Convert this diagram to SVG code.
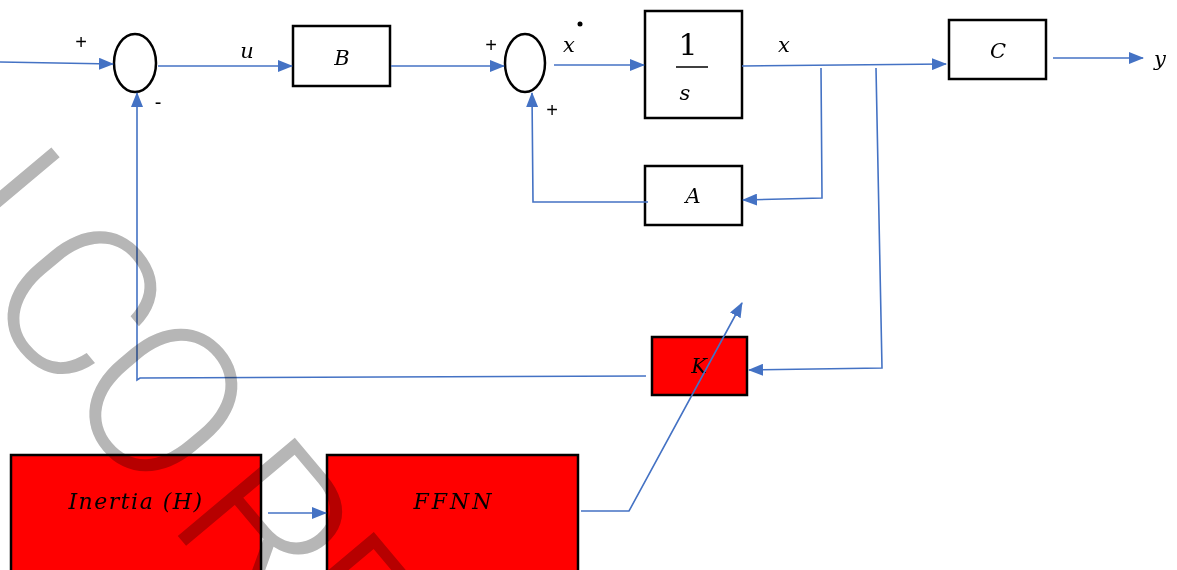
<svg xmlns="http://www.w3.org/2000/svg" width="1177" height="570" viewBox="0 0 1177 570">
<defs>
<marker id="ah" markerWidth="15" markerHeight="12" refX="14" refY="6" orient="auto" markerUnits="userSpaceOnUse">
<path d="M0,0 L15,6 L0,12 Z" fill="#4472c4"/>
</marker>
<style>
.blk{fill:#fff;stroke:#000;stroke-width:2.5}
.red{fill:#ff0000;stroke:#000;stroke-width:2.5}
.sum{fill:#fff;stroke:#000;stroke-width:2.5}
.ln{fill:none;stroke:#4472c4;stroke-width:1.6}
.lbl{font-family:"DejaVu Serif","Liberation Serif",serif;font-style:italic;font-size:21px;fill:#000;text-anchor:middle}
.big{font-size:22px}
.sg{font-family:"Liberation Sans",sans-serif;font-size:20px;fill:#000;text-anchor:middle}
.wm{font-family:Roboto,"Liberation Sans",sans-serif;font-weight:300;font-size:215px;fill:#b6b6b6;mix-blend-mode:multiply}
</style>
</defs>
<rect width="1177" height="570" fill="#fff"/>
<g id="sum1"><ellipse class="sum" cx="135" cy="63" rx="21" ry="29"/></g>
<g id="sum2"><ellipse class="sum" cx="525" cy="63" rx="20" ry="29"/></g>
<g id="B"><rect class="blk" x="293" y="26" width="97" height="60"/><text class="lbl" x="342" y="65">B</text></g>
<g id="integrator"><rect class="blk" x="645" y="11" width="97" height="107"/>
<text x="688" y="55" font-family="DejaVu Serif,Liberation Serif,serif" font-size="30" text-anchor="middle">1</text>
<line x1="676" y1="67" x2="708" y2="67" stroke="#000" stroke-width="1.5"/>
<text class="lbl" x="685" y="100" font-size="25">s</text></g>
<g id="C"><rect class="blk" x="949" y="20" width="97" height="59"/><text class="lbl" x="998" y="58">C</text></g>
<g id="A"><rect class="blk" x="645" y="166" width="97" height="59"/><text class="lbl" x="693" y="203">A</text></g>
<g id="K"><rect class="red" x="652" y="337" width="95" height="58"/><text class="lbl" x="699" y="373">K</text></g>
<g id="inertia"><rect class="red" x="11" y="455" width="250" height="120"/><text class="lbl big" x="136" y="509" letter-spacing="1.5">Inertia (H)</text></g>
<g id="ffnn"><rect class="red" x="327" y="455" width="251" height="120"/><text class="lbl big" x="454" y="509" letter-spacing="3">FFNN</text></g>
<g id="connectors">
<path class="ln" d="M0,62 L113,64" marker-end="url(#ah)"/>
<path class="ln" d="M158,66 L292,66" marker-end="url(#ah)"/>
<path class="ln" d="M391,66 L504,66" marker-end="url(#ah)"/>
<path class="ln" d="M554,65 L644,65" marker-end="url(#ah)"/>
<path class="ln" d="M742,66 L946,64" marker-end="url(#ah)"/>
<path class="ln" d="M1053,58 L1143,58" marker-end="url(#ah)"/>
<path class="ln" d="M821,68 L822,198 L743,200" marker-end="url(#ah)"/>
<path class="ln" d="M648,202 L533,202 L532,93" marker-end="url(#ah)"/>
<path class="ln" d="M876,68 L882,368 L749,370" marker-end="url(#ah)"/>
<path class="ln" d="M646,376 L140,378 L137,380 L137,93" marker-end="url(#ah)"/>
<path class="ln" d="M268,513 L326,513" marker-end="url(#ah)"/>
<path class="ln" d="M581,511 L629,511 L742,303" marker-end="url(#ah)"/>
</g>
<g id="labels">
<text class="sg" x="81" y="49">+</text>
<text class="sg" x="158" y="109">-</text>
<text class="sg" x="491" y="52">+</text>
<text class="sg" x="552" y="117">+</text>
<text class="lbl" x="247" y="58">u</text>
<text class="lbl" x="569" y="52">x</text>
<circle cx="580" cy="24" r="2.5" fill="#000"/>
<text class="lbl" x="784" y="52">x</text>
<text class="lbl" x="1160" y="66">y</text>
</g>
<text class="wm" transform="translate(177,535) rotate(50)" x="-498 -312 -185 -18 105" y="0">NCORR</text>
</svg>
